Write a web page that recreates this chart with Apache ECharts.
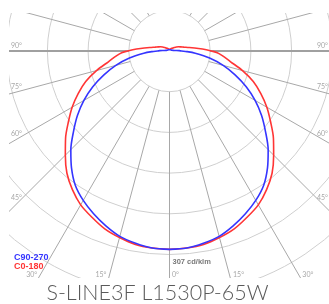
<!DOCTYPE html>
<html><head><meta charset="utf-8">
<script src="https://cdn.jsdelivr.net/npm/echarts@6/dist/echarts.min.js"></script>
<style>html,body{margin:0;padding:0;background:#fff}#c{width:329px;height:304px}</style>
</head><body><div id="c"></div>
<script>
// gamma angles (deg, 0 = straight down)
const gammaAngles = [0,5,10,15,20,25,30,35,40,45,50,55,60,65,70,75,80,85,88,90,92,95,100,105,110,115,120,126,130,140,150,160,170,180];
// luminous intensity, cd/klm
const c0_180  = [307,306,304,299,293,284,275,262,247,228,210,191,174,156,138,117,96,82,74,65,57,45,31,23,18.5,15.4,12.3,9,7.4,5.4,4.2,3.2,2.8,2.6];
const c90_270 = [307,306,302,297,288,278,267,254,236,216,194,174,153,131,108,86,63,40,27,18.5,15,9,5.4,4.5,3.9,3.4,3.0,2.9,2.8,2.6,2.3,2.2,2.0,1.9];
const seriesNames = ['C0-180','C90-270'];
const tickAngles = [90,75,60,45,30,15,0];
const peakValue = 307;
const peakUnit = 'cd/klm';
const titleText = 'S-LINE3F L1530P-65W';

const ringValue = 63, ringCount = 7, ringPx = 40.7;
const cx = 169.5, cy = 51;
const clip = {x0: 9, y0: 13, x1: 329, y1: 278};

function loop(vals) {
  const right = gammaAngles.map((g, i) => [vals[i], g]);
  const left = gammaAngles.map((g, i) => [vals[i], 360 - g]).reverse();
  return right.concat(left);
}

const chart = echarts.init(document.getElementById('c'));

const labelStyle = {fill: '#a8a8a8', fontSize: 7, fontFamily: 'Lato, sans-serif'};
const graphics = [
  {type: 'rect', shape: {x: 0, y: 0, width: clip.x0, height: 304}, style: {fill: '#fff'}, z: 50, silent: true},
  {type: 'rect', shape: {x: 0, y: 0, width: 329, height: clip.y0}, style: {fill: '#fff'}, z: 50, silent: true},
  {type: 'rect', shape: {x: 0, y: clip.y1, width: 329, height: 304 - clip.y1}, style: {fill: '#fff'}, z: 50, silent: true}
];
const rad = Math.PI / 180;
tickAngles.forEach(g => {
  const txt = g + '°';
  if (g >= 45) {
    const cot = g === 90 ? 0 : 1 / Math.tan(g * rad);
    const yl = cy + (cx - 11) * cot - (5.5 + 6 * cot);
    graphics.push({type: 'text', x: 11, y: yl, z: 60, style: Object.assign({text: txt, align: 'left', verticalAlign: 'middle'}, labelStyle)});
    graphics.push({type: 'text', x: 328, y: yl, z: 60, style: Object.assign({text: txt, align: 'right', verticalAlign: 'middle'}, labelStyle)});
  } else {
    const yb = 275;
    const dx = (yb - cy) * Math.tan(g * rad);
    if (g === 0) {
      graphics.push({type: 'text', x: cx + 2.5, y: yb, z: 60, style: Object.assign({text: txt, align: 'left', verticalAlign: 'middle'}, labelStyle)});
    } else {
      graphics.push({type: 'text', x: cx - dx - 3, y: yb, z: 60, style: Object.assign({text: txt, align: 'right', verticalAlign: 'middle'}, labelStyle)});
      graphics.push({type: 'text', x: cx + dx + 3.5, y: yb, z: 60, style: Object.assign({text: txt, align: 'left', verticalAlign: 'middle'}, labelStyle)});
    }
  }
});
graphics.push({type: 'text', x: 14, y: 257.5, z: 60, style: {text: seriesNames[1], fill: '#3535ff', fontSize: 9, fontWeight: 'bold', fontFamily: 'Liberation Sans, Arial, sans-serif', verticalAlign: 'middle'}});
graphics.push({type: 'text', x: 14, y: 266.2, z: 60, style: {text: seriesNames[0], fill: '#ff3535', fontSize: 9, fontWeight: 'bold', fontFamily: 'Liberation Sans, Arial, sans-serif', verticalAlign: 'middle'}});
graphics.push({type: 'text', x: 157.5, y: 293.5, z: 60, style: {text: titleText, fill: '#5a5a5a', fontSize: 21.5, fontWeight: 300, fontFamily: 'Lato, sans-serif', align: 'center', verticalAlign: 'middle'}});

const maxR = ringValue * ringCount;

// radial grid lines (start at the first ring)
const radialSeries = [];
for (let a = 0; a < 360; a += 15) {
  const isHoriz = (a === 90 || a === 270);
  radialSeries.push({
    type: 'line', coordinateSystem: 'polar', data: [[ringValue, a], [maxR, a]],
    symbol: 'none', silent: true, clip: false, z: isHoriz ? 1.5 : 1,
    lineStyle: isHoriz ? {color: '#a0a0a0', width: 1.8} : {color: '#a8a8a8', width: 1}
  });
}

chart.setOption({
  animation: false,
  polar: {center: [cx, cy], radius: [0, ringPx * ringCount]},
  angleAxis: {
    type: 'value', min: 0, max: 360, interval: 15, startAngle: 270, clockwise: false,
    axisLine: {show: false}, axisTick: {show: false}, axisLabel: {show: false},
    splitLine: {show: false}
  },
  radiusAxis: {
    type: 'value', min: 0, max: maxR, interval: ringValue,
    axisLine: {show: false}, axisTick: {show: false}, axisLabel: {show: false},
    splitLine: {show: true, lineStyle: {color: '#cfcfcf', width: 1}}
  },
  graphic: graphics,
  series: radialSeries.concat([
    {name: seriesNames[0], type: 'line', coordinateSystem: 'polar', data: loop(c0_180), symbol: 'none', smooth: 0.3, clip: false, lineStyle: {color: '#ff3535', width: 1.6}, z: 3},
    {name: seriesNames[1], type: 'line', coordinateSystem: 'polar', data: loop(c90_270), symbol: 'none', smooth: 0.3, clip: false, lineStyle: {color: '#3535ff', width: 1.6}, z: 4},
    {type: 'scatter', coordinateSystem: 'polar', data: [[peakValue, 0]], symbolSize: 0, silent: true, z: 5,
     label: {show: true, position: 'right', offset: [-2, 12.5], formatter: () => peakValue + ' ' + peakUnit, color: '#555', fontSize: 7.5, fontWeight: 'bold', fontFamily: 'Liberation Sans, Arial, sans-serif'}}
  ])
});
</script></body></html>
